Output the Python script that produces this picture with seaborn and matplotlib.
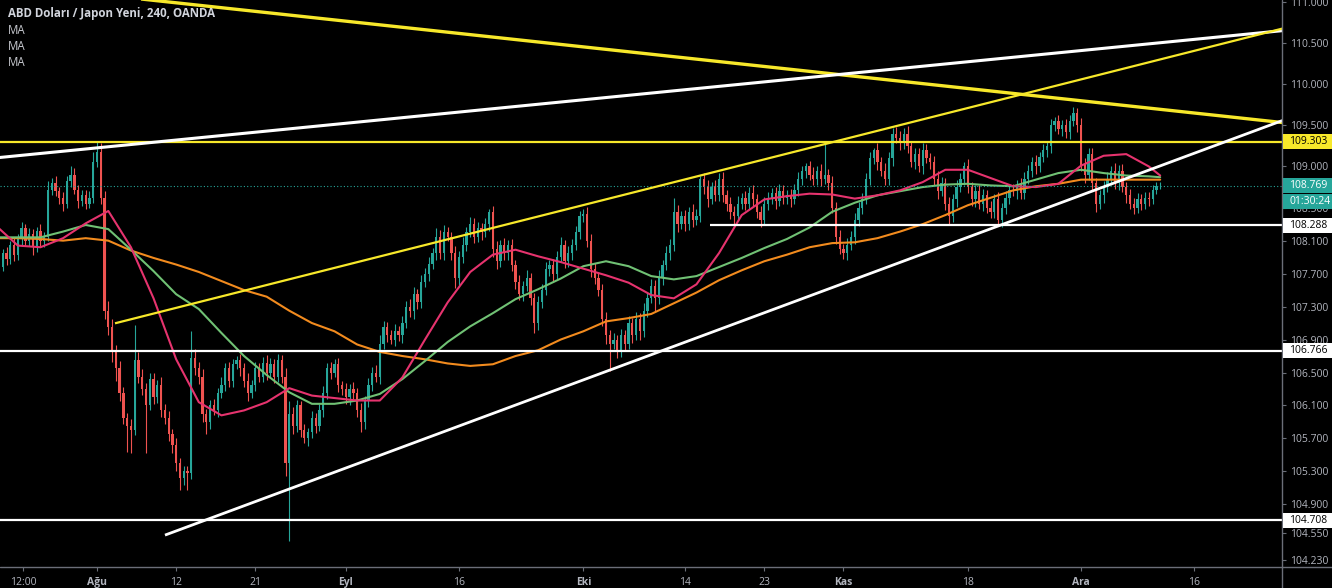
import numpy as np
import matplotlib
matplotlib.use("Agg")
import matplotlib.pyplot as plt
import matplotlib.transforms as mtransforms
from matplotlib.lines import Line2D
from matplotlib.patches import Rectangle
import seaborn as sns

# ---------------- data ----------------
first_day = -9          # trading-day index of first 8h candle (0 = 1 Aug)
bars_per_day = 3
first_open = 107.62
closes = [
    107.70, 107.78, 107.95,  107.88, 108.05, 107.92,  108.12, 108.25, 108.10,
    108.18, 108.02, 108.22,  108.10, 108.15, 108.72,  108.80, 108.70, 108.62,
    108.55, 108.82, 108.90,  108.72, 108.58, 108.65,  108.55, 108.62, 109.05,
    109.18, 108.62, 107.25,  107.05, 106.75, 106.55,  106.25, 105.95, 105.85,
    105.80, 106.65, 106.45,  106.30, 106.10, 106.42,  106.20, 106.35, 106.05,
    105.95, 105.75, 105.62,  105.40, 105.22, 105.30,  105.28, 106.68, 106.55,
    106.45, 106.00, 105.90,  106.10, 106.05, 106.25,  106.35, 106.55, 106.40,
    106.60, 106.65, 106.55,  106.40, 106.25, 106.35,  106.55, 106.45, 106.62,
    106.50, 106.60, 106.45,  106.65, 106.45, 105.40,  106.00, 105.85, 106.10,
    105.80, 105.70, 105.78,  105.95, 105.85, 106.05,  106.25, 106.55, 106.50,
    106.60, 106.35, 106.30,  106.20, 106.30, 106.25,  106.05, 105.90, 106.15,
    106.35, 106.50, 106.45,  106.85, 107.05, 106.95,  106.90, 107.00, 106.95,
    107.10, 107.30, 107.25,  107.45, 107.35, 107.60,  107.70, 107.82, 107.95,
    108.15, 107.95, 108.20,  108.15, 107.95, 107.65,  107.90, 108.05, 108.20,
    108.30, 108.15, 108.25,  108.20, 108.30, 108.45,  108.00, 107.85, 108.05,
    107.95, 108.05, 107.80,  107.60, 107.45, 107.55,  107.65, 107.40, 107.10,
    107.35, 107.50, 107.75,  107.80, 107.70, 107.90,  108.05, 107.85, 107.95,
    108.05, 108.20, 108.40,  108.42, 108.10, 107.75,  107.65, 107.50, 107.15,
    106.95, 106.85, 106.90,  106.75, 106.95, 106.85,  107.10, 106.95, 107.15,
    107.00, 107.25, 107.40,  107.55, 107.40, 107.65,  107.80, 107.95, 108.05,
    108.45, 108.30, 108.40,  108.30, 108.45, 108.35,  108.40, 108.85, 108.75,
    108.60, 108.75, 108.65,  108.85, 108.65, 108.55,  108.45, 108.40, 108.55,
    108.62, 108.55, 108.68,  108.60, 108.45, 108.35,  108.55, 108.62, 108.68,
    108.58, 108.70, 108.62,  108.65, 108.60, 108.72,  108.85, 108.95, 109.00,
    108.90, 108.85, 108.95,  108.85, 108.90, 108.80,  108.50, 108.15, 108.00,
    107.95, 108.05, 108.15,  108.35, 108.50, 108.60,  108.85, 109.10, 109.20,
    109.05, 108.95, 108.85,  109.10, 109.40, 109.35,  109.28, 109.40, 109.25,
    109.05, 109.15, 109.00,  109.20, 109.10, 109.05,  108.85, 108.70, 108.80,
    108.55, 108.40, 108.60,  108.75, 108.85, 109.00,  108.75, 108.60, 108.70,
    108.55, 108.65, 108.50,  108.45, 108.60, 108.35,  108.50, 108.62, 108.72,
    108.70, 108.78, 108.68,  108.85, 108.95, 109.05,  109.00, 109.12, 109.20,
    109.25, 109.50, 109.55,  109.45, 109.50, 109.42,  109.55, 109.65, 109.50,
    109.02, 108.90, 109.15,  108.80, 108.55, 108.65,  108.75, 108.85, 108.95,
    108.80, 108.95, 108.75,  108.65, 108.55, 108.50,  108.60, 108.55, 108.62,
    108.60, 108.72, 108.76,  108.769,
]
upper_wick_pips = [
    6, 8, 5, 7, 5, 9, 6, 8, 5, 7, 6, 5, 8, 6, 10, 6, 8, 5, 7, 6, 10, 8, 5, 7, 6, 8, 12,
    13, 10, 8, 12, 10, 8, 9, 7, 6, 8, 43, 10, 9, 7, 8, 8, 6, 9, 7, 8, 6, 8, 6, 7, 6, 32, 10,
    8, 9, 6, 7, 8, 6, 9, 7, 8, 6, 5, 8, 7, 9, 6, 8, 6, 7, 9, 7, 6, 8, 6, 10, 15, 8, 7,
    6, 7, 5, 8, 6, 7, 9, 7, 8, 6, 8, 5, 7, 6, 8, 6, 8, 7, 8, 7, 9, 10, 8, 6, 7, 9, 6,
    8, 7, 9, 9, 6, 8, 7, 8, 6, 10, 8, 9, 7, 6, 8, 8, 9, 7, 9, 7, 8, 6, 8, 4, 7, 9, 6,
    8, 6, 7, 7, 8, 6, 9, 6, 7, 8, 7, 9, 6, 8, 7, 9, 6, 8, 7, 8, 6, 7, 9, 8, 8, 6, 7,
    9, 7, 8, 6, 8, 7, 9, 6, 8, 7, 9, 6, 8, 7, 9, 6, 8, 7, 17, 8, 6, 7, 6, 9, 8, 4, 7,
    9, 6, 8, 7, 8, 6, 8, 7, 9, 6, 8, 7, 9, 6, 7, 8, 7, 6, 7, 9, 8, 6, 8, 7, 8, 6, 4,
    7, 9, 6, 8, 40, 7, 9, 7, 8, 6, 8, 7, 9, 7, 8, 7, 8, 3, 8, 6, 9, 7, 7, 8, 8, 7, 9,
    6, 8, 7, 9, 7, 6, 8, 9, 7, 6, 8, 7, 8, 7, 6, 9, 6, 8, 7, 8, 6, 8, 7, 9, 6, 8, 7,
    7, 6, 8, 8, 7, 6, 9, 6, 7, 6, 8, 5, 8, 6, 7, 8, 7, 6, 9, 8, 7, 8, 6, 7, 7, 8, 6,
    9, 7, 8, 6, 8, 7, 8, 6, 7, 7, 6, 5, 4,
]
lower_wick_pips = [
    6, 7, 5, 8, 6, 7, 5, 8, 6, 7, 9, 6, 6, 8, 5, 7, 6, 8, 9, 5, 7, 6, 8, 6, 7, 5, 6,
    6, 8, 10, 9, 12, 15, 10, 8, 32, 28, 6, 8, 7, 58, 6, 8, 7, 9, 7, 8, 10, 9, 14, 8, 20, 7, 8,
    9, 10, 15, 8, 7, 9, 6, 8, 7, 8, 6, 9, 7, 9, 6, 8, 7, 6, 9, 6, 8, 7, 8, 15, 95, 10, 7,
    8, 6, 9, 7, 8, 6, 9, 7, 8, 6, 9, 7, 8, 10, 7, 9, 12, 8, 7, 8, 6, 9, 7, 8, 6, 8, 7,
    9, 6, 8, 10, 8, 7, 6, 9, 7, 8, 7, 9, 6, 8, 13, 9, 7, 8, 6, 8, 7, 9, 6, 8, 10, 9, 7,
    8, 9, 7, 9, 7, 8, 6, 8, 12, 9, 7, 6, 8, 9, 7, 6, 8, 7, 9, 6, 8, 7, 8, 9, 8, 7, 9,
    10, 33, 7, 8, 6, 9, 7, 9, 6, 10, 7, 8, 6, 15, 7, 9, 6, 8, 7, 9, 6, 8, 7, 9, 6, 7, 8,
    9, 6, 7, 7, 8, 9, 9, 12, 6, 7, 8, 6, 8, 7, 9, 6, 8, 7, 9, 6, 8, 7, 9, 6, 8, 7, 9,
    6, 8, 7, 9, 6, 8, 7, 9, 6, 7, 8, 6, 9, 7, 8, 6, 8, 7, 9, 6, 8, 7, 9, 6, 8, 7, 9,
    6, 8, 7, 9, 6, 8, 7, 9, 6, 8, 10, 7, 9, 6, 8, 7, 8, 9, 6, 9, 7, 8, 7, 6, 9, 8, 7,
    6, 9, 8, 7, 6, 8, 9, 7, 6, 8, 9, 7, 6, 8, 7, 9, 6, 8, 7, 10, 6, 8, 10, 7, 9, 6, 8,
    7, 8, 6, 9, 7, 8, 6, 8, 7, 8, 6, 5, 3,
]

ma_days = list(range(-9, 94, 2)) + [94]
ma_fast = [108.29, 108.04, 108.02, 108.13, 108.31, 108.46, 108.02, 107.40, 106.66, 106.14,
           105.98, 106.04, 106.14, 106.31, 106.22, 106.19, 106.16, 106.16, 106.44, 106.90,
           107.35, 107.72, 107.93, 107.99, 107.91, 107.84, 107.76, 107.68, 107.59, 107.44,
           107.40, 107.57, 107.95, 108.41, 108.60, 108.64, 108.67, 108.66, 108.61, 108.65,
           108.71, 108.81, 108.96, 108.96, 108.86, 108.76, 108.75, 108.79, 109.01, 109.13,
           109.15, 109.00, 108.89]
ma_mid = [108.14, 108.14, 108.14, 108.21, 108.29, 108.24, 107.99, 107.73, 107.45, 107.27,
          106.98, 106.70, 106.47, 106.26, 106.12, 106.12, 106.16, 106.24, 106.42, 106.64,
          106.87, 107.06, 107.22, 107.39, 107.51, 107.64, 107.79, 107.85, 107.79, 107.67,
          107.63, 107.67, 107.78, 107.89, 108.01, 108.12, 108.26, 108.45, 108.56, 108.65,
          108.70, 108.75, 108.78, 108.79, 108.77, 108.76, 108.84, 108.92, 108.96, 108.92,
          108.89, 108.88, 108.87]
ma_slow = [108.13, 108.13, 108.12, 108.10, 108.13, 108.10, 107.98, 107.89, 107.81, 107.72,
           107.61, 107.50, 107.42, 107.25, 107.10, 107.00, 106.84, 106.75, 106.70, 106.66,
           106.61, 106.58, 106.60, 106.70, 106.77, 106.90, 107.00, 107.12, 107.16, 107.21,
           107.34, 107.47, 107.62, 107.74, 107.85, 107.93, 108.02, 108.07, 108.08, 108.13,
           108.21, 108.30, 108.41, 108.53, 108.62, 108.71, 108.76, 108.79, 108.84, 108.84,
           108.84, 108.84, 108.84]

tick_days = [-6.5, 0, 7, 14, 22, 32, 43, 52, 59, 66, 77, 87, 97]
tick_labels = ["12:00", "Ağu", "12", "21", "Eyl", "16", "Eki", "14", "23", "Kas", "18", "Ara", "16"]
month_labels = ["Ağu", "Eyl", "Eki", "Kas", "Ara"]
price_ticks = [111.0, 110.5, 110.0, 109.5, 109.0, 108.5, 108.1, 107.7, 107.3, 106.9,
               106.5, 106.1, 105.7, 105.3, 104.9, 104.55, 104.23]

level_resistance = 109.303
level_support_mid = 108.288
level_support_mid_start = 54.2
level_support_1 = 106.766
level_support_2 = 104.708
last_price = 108.769
countdown = "01:30:24"

# drawn trend lines: (day, price) anchors
tl_yellow_desc = [(0.0, 111.09), (104.8, 109.533)]
tl_white_top = [(-8.6, 109.109), (104.8, 110.648)]
tl_yellow_rise = [(1.59, 107.097), (104.8, 110.673)]
tl_white_low = [(6.01, 104.527), (104.8, 109.557)]

title = "ABD Doları / Japon Yeni, 240, OANDA"
legend_items = ["MA", "MA", "MA"]

# ---------------- style ----------------
sns.set_theme(style="dark", rc={"axes.facecolor": "black", "figure.facecolor": "black"})
plt.rcParams['font.family'] = ['Open Sans', 'DejaVu Sans']

UP = "#26a69a"
DOWN = "#ef5350"
YELLOW = "#f7e82a"
WHITE = "#ffffff"
PINK = "#e6336e"
GREEN = "#70c174"
ORANGE = "#f28b1e"
AXIS_C = "#6b6e78"
TXT_C = "#b2b5be"

W, H = 1332, 588
PLOT_R, PLOT_B = 1282, 567
XMIN, XMAX = -8.577, 104.77
YMIN, YMAX = 104.14, 111.02

fig = plt.figure(figsize=(W / 100, H / 100), dpi=100)
fig.patch.set_facecolor("black")
ax = fig.add_axes([0, (H - PLOT_B) / H, PLOT_R / W, PLOT_B / H])
ax.set_facecolor("black")

# candles
c = np.array(closes)
o = np.r_[first_open, c[:-1]]
xs = first_day + np.arange(len(c)) / bars_per_day
hi = np.maximum(o, c) + np.array(upper_wick_pips) / 100.0
lo = np.minimum(o, c) - np.array(lower_wick_pips) / 100.0
cols = np.where(c >= o, UP, DOWN)
ax.vlines(xs, lo, hi, colors=cols, linewidth=0.8, zorder=2)
ax.bar(xs, np.maximum(np.abs(c - o), 0.008), bottom=np.minimum(o, c), width=0.2,
       color=cols, linewidth=0, zorder=3)

# moving averages
for vals, col in [(ma_slow, ORANGE), (ma_mid, GREEN), (ma_fast, PINK)]:
    sns.lineplot(x=ma_days, y=vals, ax=ax, color=col, linewidth=1.5, sort=False,
                 estimator=None, zorder=4, solid_joinstyle="round", solid_capstyle="round")

# horizontal levels
ax.axhline(last_price, color=UP, linewidth=0.8, linestyle=(0, (1, 2)), zorder=4)
ax.axhline(level_resistance, color=YELLOW, linewidth=1.6, zorder=5)
ax.axhline(level_support_1, color=WHITE, linewidth=1.6, zorder=5)
ax.axhline(level_support_2, color=WHITE, linewidth=1.6, zorder=5)
ax.hlines(level_support_mid, level_support_mid_start, XMAX, color=WHITE, linewidth=1.6, zorder=5)

# trend lines
for pts, col, lw in [(tl_yellow_desc, YELLOW, 2.4), (tl_white_top, WHITE, 2.2),
                     (tl_yellow_rise, YELLOW, 1.6), (tl_white_low, WHITE, 2.0)]:
    ax.plot([p[0] for p in pts], [p[1] for p in pts], color=col, linewidth=lw,
            solid_capstyle="butt", zorder=6)

ax.set_xlim(XMIN, XMAX)
ax.set_ylim(YMIN, YMAX)
for s in ax.spines.values():
    s.set_visible(False)
ax.grid(False)

# axes ticks
ax.set_xticks(tick_days)
ax.set_xticklabels(tick_labels)
for lab in ax.get_xticklabels():
    if lab.get_text() in month_labels:
        lab.set_fontweight("bold")
ax.yaxis.tick_right()
ax.set_yticks(price_ticks)
ax.set_yticklabels([f"{t:.3f}" for t in price_ticks])
ax.tick_params(axis="x", direction="out", length=3, width=0.8, color=AXIS_C,
               labelcolor=TXT_C, labelsize=7.5, pad=4, bottom=True)
ax.tick_params(axis="y", direction="out", length=3, width=0.8, color=AXIS_C,
               labelcolor=TXT_C, labelsize=7.5, pad=3, right=True, left=False)
ax.set_xlabel("")
ax.set_ylabel("")

# axis border lines spanning the whole figure
fig.add_artist(Line2D([PLOT_R / W, PLOT_R / W], [0, 1], transform=fig.transFigure,
                      color=AXIS_C, linewidth=1))
fig.add_artist(Line2D([0, 1], [(H - PLOT_B) / H, (H - PLOT_B) / H], transform=fig.transFigure,
                      color=AXIS_C, linewidth=1))

# price badges
trans = mtransforms.blended_transform_factory(fig.transFigure, ax.transData)
px_per_unit = PLOT_B / (YMAX - YMIN)
bh = 15 / px_per_unit


def badge(y, text, fc, tc, weight="normal"):
    fig.add_artist(Rectangle(((PLOT_R + 1) / W, y - bh / 2), (W - PLOT_R - 1) / W, bh,
                             transform=trans, facecolor=fc, edgecolor="none", zorder=10))
    fig.text((PLOT_R + 7) / W, y, text, transform=trans, color=tc, fontsize=7.5,
             va="center", ha="left", zorder=11, fontweight=weight)


badge(level_resistance, f"{level_resistance:.3f}", YELLOW, "black")
badge(last_price, f"{last_price:.3f}", UP, "white")
badge(last_price - 16 / px_per_unit, countdown, UP, "white")
badge(level_support_mid, f"{level_support_mid:.3f}", WHITE, "black")
badge(level_support_1, f"{level_support_1:.3f}", WHITE, "black")
badge(level_support_2, f"{level_support_2:.3f}", WHITE, "black")

# title and legend text
fig.text(8 / W, 1 - 13 / H, title, color="#d1d4dc", fontsize=8.3, fontweight="bold",
         va="center", ha="left")
for k, item in enumerate(legend_items):
    fig.text(8 / W, 1 - (30 + 16 * k) / H, item, color="#c8cad0", fontsize=8.3,
             va="center", ha="left")

fig.savefig("out.png", dpi=100, facecolor="black")
